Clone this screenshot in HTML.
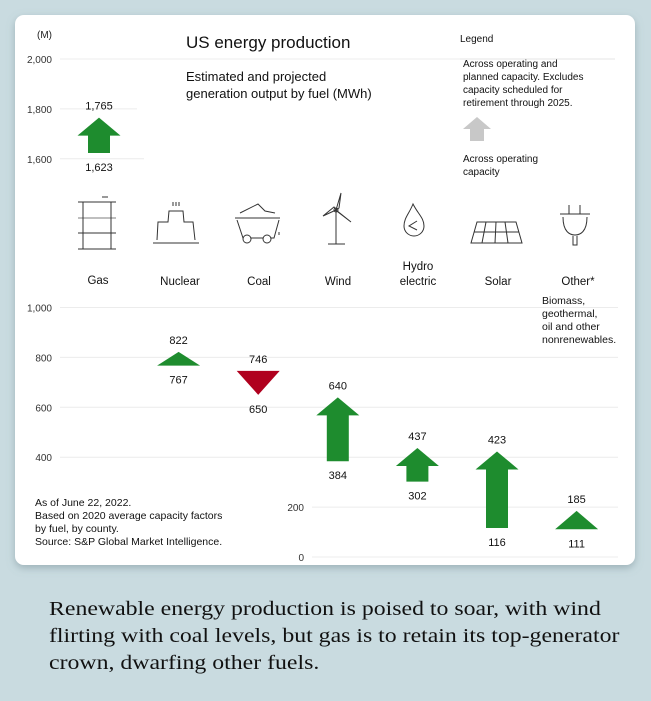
<!DOCTYPE html>
<html><head><meta charset="utf-8">
<style>
html,body{margin:0;padding:0;width:651px;height:701px;background:#c9dbe0;overflow:hidden;}
svg{display:block;font-family:"Liberation Sans",sans-serif;}
.cap{position:absolute;left:49px;top:596px;font-family:"Liberation Serif",serif;font-size:20px;line-height:27px;color:#111;white-space:nowrap;transform:scaleX(1.19);transform-origin:0 0;}
</style></head>
<body>
<svg id="chart" width="651" height="701">
<defs><filter id="sh" x="-5%" y="-5%" width="110%" height="110%"><feDropShadow dx="0" dy="3" stdDeviation="4" flood-color="#6f8890" flood-opacity="0.5"/></filter></defs>
<rect x="15" y="15" width="620" height="550" rx="9" fill="#fff" filter="url(#sh)"/>
<g id="grid"></g>
<text x="37" y="38" font-size="10" fill="#222">(M)</text>
<text x="186" y="48" font-size="17" fill="#111">US energy production</text>
<text x="186" y="81" font-size="13" fill="#111">Estimated and projected</text>
<text x="186" y="98" font-size="13" fill="#111">generation output by fuel (MWh)</text>
<g font-size="10" fill="#111">
<text x="460" y="42">Legend</text>
<line x1="460" y1="59" x2="615" y2="59" stroke="#e6e6e6"/>
<text x="463" y="67">Across operating and</text>
<text x="463" y="80">planned capacity. Excludes</text>
<text x="463" y="93">capacity scheduled for</text>
<text x="463" y="106">retirement through 2025.</text>
<polygon points="463,129 477,117 491,129 484,129 484,141 470,141 470,129" fill="#c8c8c8"/>
<text x="463" y="162">Across operating</text>
<text x="463" y="175">capacity</text>
</g>
<g id="icons" stroke="#333" fill="none" stroke-width="1">
<g><line x1="78" y1="202" x2="116" y2="202"/><line x1="78" y1="218" x2="116" y2="218" stroke="#aaa" stroke-width="1.5"/><line x1="78" y1="233" x2="116" y2="233"/><line x1="78" y1="249" x2="116" y2="249"/><line x1="83" y1="202" x2="83" y2="249"/><line x1="111" y1="202" x2="111" y2="249"/><line x1="102" y1="197" x2="108" y2="197"/></g>
<g><path d="M157 240 L158 222 L168 222 L169 211 L183 211 L184 222 L193 222 L195 240"/><line x1="153" y1="243" x2="199" y2="243"/><path d="M173 206v-4M176 206v-4M179 206v-4"/></g>
<g><path d="M240 213 L258 204 L265 211 L275 213"/><line x1="235" y1="218" x2="280" y2="218"/><path d="M237 220 L243 238 L274 238 L279 220"/><circle cx="247" cy="239" r="4" fill="#fff"/><circle cx="267" cy="239" r="4" fill="#fff"/><path d="M279 232v3"/></g>
<g><line x1="336" y1="210" x2="336" y2="244"/><line x1="328" y1="244" x2="345" y2="244"/><path d="M336 210 L341 193 L339 208 Z M336 210 L323 216 L334 207 Z M336 210 L351 222 L338 212 Z"/><circle cx="336" cy="210" r="2"/></g>
<g><path d="M413 204 C409 214 404 218 404 226 A10 10 0 0 0 424 226 C424 218 418 214 413 204 Z"/><path d="M417 221 L409 226 L417 230"/></g>
<g><path d="M477 222 L516 222 L522 243 L471 243 Z M474 232 L519 232 M486 222 L482 243 M496 222 L495 243 M505 222 L508 243"/></g>
<g><path d="M569 205v9M580 205v9M560 214h30M563 217 C563 232 570 235 575 235 C580 235 587 232 587 217 M573 236v9h4v-9"/></g>
</g>
<g id="labels" font-size="11.5" fill="#111" text-anchor="middle">
<text x="98" y="284">Gas</text><text x="180" y="285">Nuclear</text><text x="259" y="285">Coal</text><text x="338" y="285">Wind</text>
<text x="418" y="270">Hydro</text><text x="418" y="285">electric</text><text x="498" y="285">Solar</text><text x="578" y="285">Other*</text>
</g>
<g font-size="10.5" fill="#111">
<text x="542" y="304">Biomass,</text><text x="542" y="317">geothermal,</text><text x="542" y="330">oil and other</text><text x="542" y="343">nonrenewables.</text>
</g>
<g font-size="10.5" fill="#111">
<text x="35" y="506">As of June 22, 2022.</text>
<text x="35" y="519">Based on 2020 average capacity factors</text>
<text x="35" y="532">by fuel, by county.</text>
<text x="35" y="545">Source: S&amp;P Global Market Intelligence.</text>
</g>
<g id="marks"></g>
</svg>
<div class="cap">Renewable energy production is poised to soar, with wind<br>flirting with coal levels, but gas is to retain its top-generator<br>crown, dwarfing other fuels.</div>
<script>
const categories = ["Gas","Nuclear","Coal","Wind","Hydro","Solar","Other"];
const startValues = [1623,767,746,384,302,116,111];
const endValues = [1765,822,650,640,437,423,185];
const upperTicks = [2000,1800,1600];
const upperTickLabels = ["2,000","1,800","1,600"];
const lowerTicks = [1000,800,600,400,200,0];
const lowerTickLabels = ["1,000","800","600","400","200","0"];

const NS="http://www.w3.org/2000/svg";
function mk(tag,attrs,parent){const e=document.createElementNS(NS,tag);for(const k in attrs)e.setAttribute(k,attrs[k]);parent.appendChild(e);return e;}
const k=0.2495;
function yUp(v){return 59+(2000-v)*k;}
function yLow(v){return 557-v*k;}
function yOf(i,v){return i===0?yUp(v):yLow(v);}
function xOf(i){return 99+i*79.6;}
const grid=document.getElementById('grid');
upperTicks.forEach((t,i)=>{
  const y=yUp(t);
  const l=mk('line',{x1:60,x2:i===0?615:(i===1?137:144),y1:y,y2:y,stroke:'#ececec'},grid);
  
  
  const tx=mk('text',{x:52,y:y+4,'font-size':10,fill:'#333','text-anchor':'end'},grid);
  tx.textContent=upperTickLabels[i];
  
  
});
lowerTicks.forEach((t,i)=>{
  const y=yLow(t);
  const low=t<=200;
  const l=mk('line',{x1:low?312:60,x2:618,y1:y,y2:y,stroke:'#ececec'},grid);
  
  
  const tx=mk('text',{x:low?304:52,y:y+4,'font-size':10,fill:'#333','text-anchor':'end'},grid);
  tx.textContent=lowerTickLabels[i];
  
  
});
const marks=document.getElementById('marks');
categories.forEach((c,i)=>{
  const s=startValues[i], e=endValues[i], x=xOf(i);
  const ys=yOf(i,s), ye=yOf(i,e);
  const up=e>=s;
  const len=Math.abs(ys-ye);
  const hw=21.5, sw=11, hh=18;
  const dir=up?1:-1;
  const yh=ye+dir*hh;
  let pts;
  if(len<28){pts=[[x-hw,ys],[x,ye],[x+hw,ys]];}
  else pts=[[x-hw,yh],[x,ye],[x+hw,yh],[x+sw,yh],[x+sw,ys],[x-sw,ys],[x-sw,yh]];
  const p=mk('polygon',{points:pts.map(q=>q.join(',')).join(' '),fill:up?'#1e8c2e':'#b0001e'},marks);
  
  
  const topV=up?e:s, botV=up?s:e;
  const t1=mk('text',{x:x,y:Math.min(ys,ye)-8,'font-size':11,fill:'#111','text-anchor':'middle'},marks);
  t1.textContent=topV.toLocaleString('en-US');
  
  
  const t2=mk('text',{x:x,y:Math.max(ys,ye)+18,'font-size':11,fill:'#111','text-anchor':'middle'},marks);
  t2.textContent=botV.toLocaleString('en-US');
  
  
});
</script>
</body></html>
